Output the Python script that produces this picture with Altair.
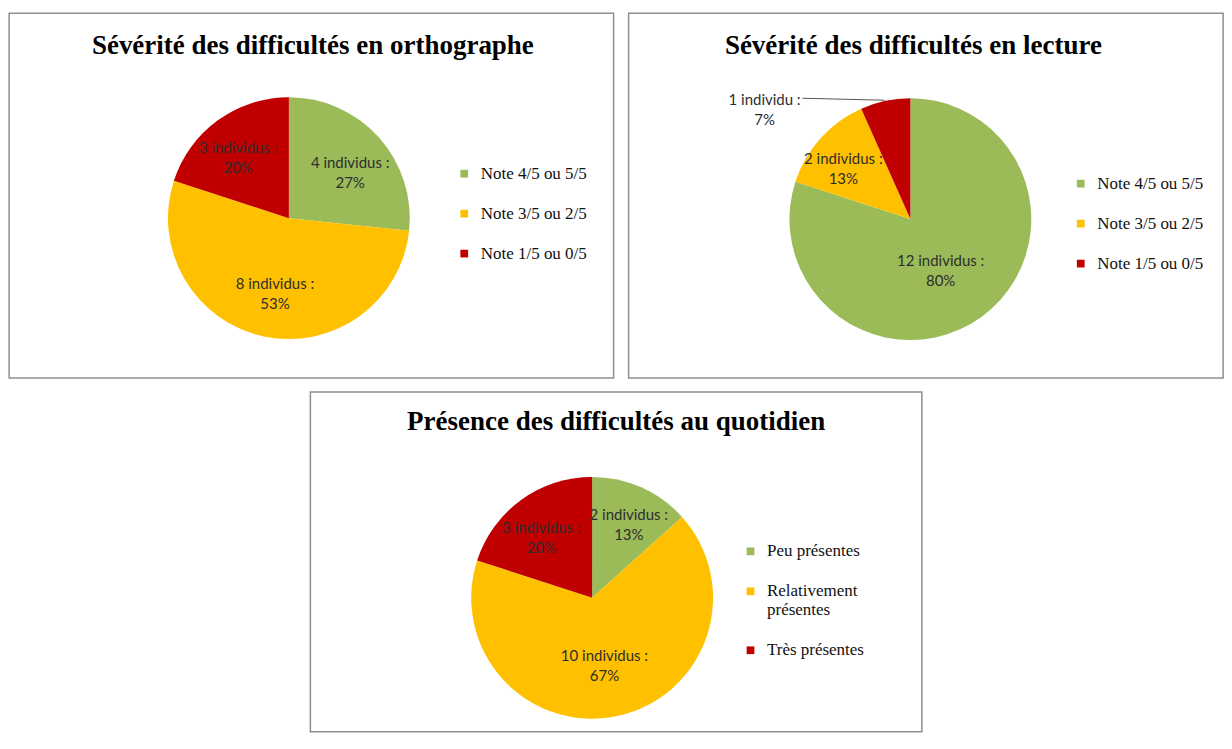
import altair as alt
import pandas as pd

GREEN, YELLOW, RED = "#9BBB59", "#FFC000", "#C00000"
colors = [GREEN, YELLOW, RED]

title1 = "Sévérité des difficultés en orthographe"
cats1 = ["Note 4/5 ou 5/5", "Note 3/5 ou 2/5", "Note 1/5 ou 0/5"]
counts1 = [4, 8, 3]

title2 = "Sévérité des difficultés en lecture"
cats2 = ["Note 4/5 ou 5/5", "Note 3/5 ou 2/5", "Note 1/5 ou 0/5"]
counts2 = [12, 2, 1]

title3 = "Présence des difficultés au quotidien"
cats3 = ["Peu présentes", "Relativement présentes", "Très présentes"]
counts3 = [2, 10, 3]


def make_df(cats, counts, outside_idx=None):
    total = sum(counts)
    rows = []
    cum = 0
    for i, (c, n) in enumerate(zip(cats, counts)):
        word = "individu" if n == 1 else "individus"
        lab = f"{n} {word} :\n{round(100 * n / total)}%"
        rows.append(dict(cat=c, n=n, idx=i, share=n / total, mid=cum + n / 2,
                         inlab="" if i == outside_idx else lab,
                         outlab=lab if i == outside_idx else ""))
        cum += n
    return pd.DataFrame(rows)


def panel(title, cats, counts, w, h, cx, cy, tx, ty, lx, ly, outside_idx=None):
    df = make_df(cats, counts, outside_idx)
    base = alt.Chart(df)
    order = alt.Order("idx:Q")
    color = alt.Color(
        "cat:N",
        scale=alt.Scale(domain=cats, range=colors),
        legend=alt.Legend(
            orient="none", legendX=lx, legendY=ly, title=None,
            symbolType="square", symbolSize=60, symbolStrokeWidth=0,
            labelFont="Liberation Serif", labelFontSize=17, labelColor="#111",
            rowPadding=22, labelOffset=8, padding=0, labelLimit=0,
            labelExpr="datum.label == 'Relativement présentes' ? ['Relativement', 'présentes'] : datum.label",
        ),
    )
    arc = base.mark_arc(outerRadius=121).encode(
        theta=alt.Theta("n:Q", stack=True), color=color, order=order,
        x=alt.value(cx), y=alt.value(cy))
    lab = base.transform_calculate(lr="98 - 58 * datum.share").mark_text(
        font="Lato", fontSize=15, lineBreak="\n", lineHeight=20, color="#2e2e2e"
    ).encode(theta=alt.Theta("mid:Q", stack=None),
             radius=alt.Radius("lr:Q", scale=None),
             text="inlab:N", x=alt.value(cx), y=alt.value(cy))
    ttl = alt.Chart(pd.DataFrame({"t": [title]})).mark_text(
        font="Liberation Serif", fontSize=27, fontWeight="bold", color="#000"
    ).encode(text="t:N", x=alt.value(tx), y=alt.value(ty))
    layers = [arc, lab, ttl]
    if outside_idx is not None:
        out = base.mark_text(
            font="Lato", fontSize=15, lineBreak="\n", lineHeight=20,
            color="#2e2e2e", dx=-122, dy=-7
        ).encode(theta=alt.Theta("mid:Q", stack=None), radius=alt.value(115),
                 text="outlab:N", x=alt.value(cx), y=alt.value(cy))
        leader = alt.Chart(pd.DataFrame({"t": [title]})).mark_rule(
            color="#555", strokeWidth=1
        ).encode(x=alt.value(cx - 108), x2=alt.value(cx - 26),
                 y=alt.value(cy - 121), y2=alt.value(cy - 119))
        layers += [out, leader]
    return alt.layer(*layers).properties(width=w, height=h)


p1 = panel(title1, cats1, counts1, 605, 365, 280, 205, 304, 33, 447, 152)
p2 = panel(title2, cats2, counts2, 595, 365, 282, 206, 285, 33, 444, 162, outside_idx=2)
p3 = panel(title3, cats3, counts3, 612, 340, 282, 206, 306, 30, 432, 151)

row = alt.hconcat(p1, p2, spacing=13).resolve_scale(color="independent", theta="independent")
chart = alt.vconcat(row, p3, spacing=12, center=True).resolve_scale(
    color="independent", theta="independent"
).properties(
    padding={"left": 0, "top": 4, "right": 0, "bottom": 0},
    background="white",
).configure_view(stroke="#8f8f8f", strokeWidth=1.5)

chart.save("out.html", embed_options={"renderer": "svg", "actions": False})
